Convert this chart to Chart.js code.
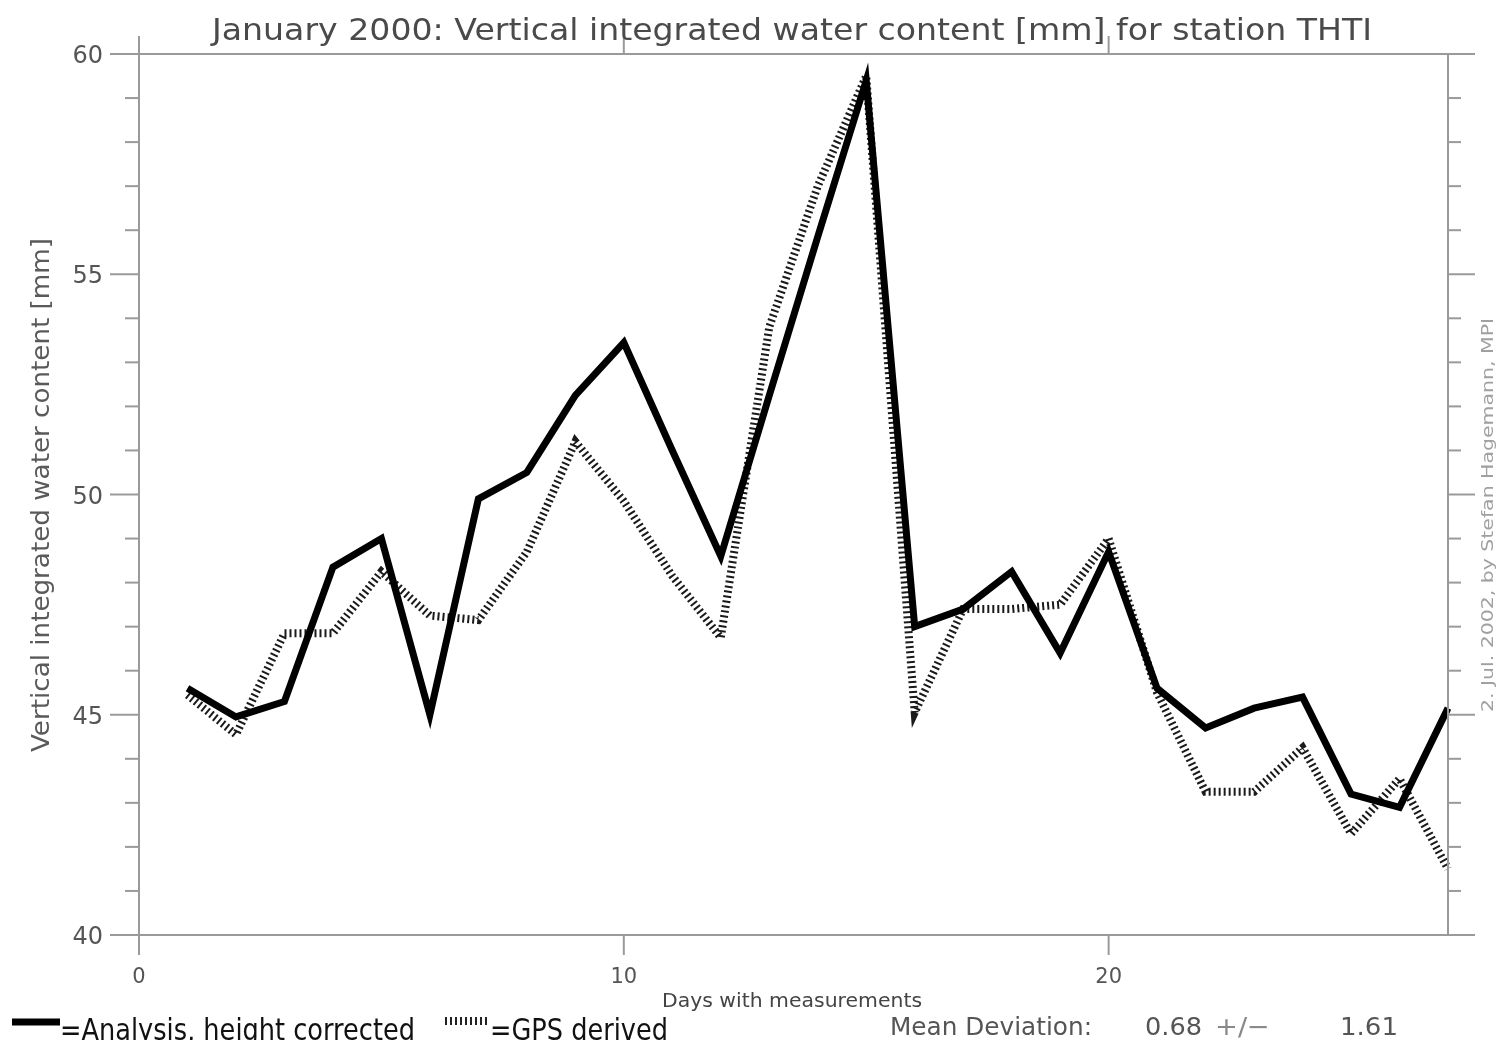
<!DOCTYPE html>
<html>
<head>
<meta charset="utf-8">
<script src="https://cdn.jsdelivr.net/npm/chart.js@4.4.1/dist/chart.umd.min.js"></script>
<style>
  html, body { margin: 0; padding: 0; background: #fff; }
  #wrap { width: 1497px; height: 1040px; }
</style>
</head>
<body>
<div id="wrap"><canvas id="chart" width="1497" height="1040"></canvas></div>
<script>
// values (day of month -> water content in mm)
const days = [1,2,3,4,5,6,7,8,9,10,11,12,13,14,15,16,17,18,19,20,21,22,23,24,25,26,27];
const analysis = [45.6,44.95,45.3,48.35,49.0,45.0,49.9,50.5,52.25,53.45,51.0,48.6,52.25,55.85,59.4,47.0,47.4,48.25,46.4,48.7,45.6,44.7,45.15,45.4,43.2,42.9,45.15];
const gps = [45.45,44.55,46.85,46.85,48.25,47.25,47.15,48.7,51.2,49.85,48.15,46.75,53.8,57.0,59.5,45.05,47.4,47.4,47.5,49.0,45.5,43.25,43.25,44.25,42.3,43.55,41.5];

const xTicks = [0, 10, 20];
const yTicks = [40, 45, 50, 55, 60];
const yMinor = [41,42,43,44,46,47,48,49,51,52,53,54,56,57,58,59];

const titleText = 'January 2000: Vertical integrated water content [mm] for station THTI';
const yTitle = 'Vertical integrated water content [mm]';
const xTitle = 'Days with measurements';
const stamp = '2. Jul. 2002, by Stefan Hagemann, MPI';
const legendA = '=Analysis, height corrected';
const legendB = '=GPS derived';
const meanLabel = 'Mean Deviation:';
const meanVal = '0.68', meanPm = '+/\u2212', meanSd = '1.61';

const FONT = '"DejaVu Sans", sans-serif';

function txt(ctx, s, x, y, o) {
  ctx.save();
  ctx.font = (o.size || 20) + 'px ' + FONT;
  ctx.fillStyle = o.color || '#555';
  ctx.textAlign = o.align || 'left';
  ctx.textBaseline = o.base || 'alphabetic';
  ctx.translate(x, y);
  if (o.rot) ctx.rotate(-Math.PI / 2);
  if (o.width) ctx.scale(o.width / ctx.measureText(s).width, 1);
  ctx.fillText(s, 0, 0);
  ctx.restore();
}

function line(ctx, x1, y1, x2, y2) {
  ctx.beginPath(); ctx.moveTo(x1, y1); ctx.lineTo(x2, y2); ctx.stroke();
}

// ── axes frame, ticks, texts ──
const decor = {
  id: 'decor',
  afterDraw(chart) {
    const { ctx } = chart;
    const x = chart.scales.x, y = chart.scales.y;
    const L = x.getPixelForValue(0), R = x.getPixelForValue(27);
    const T = y.getPixelForValue(60), B = y.getPixelForValue(40);

    ctx.save();
    ctx.strokeStyle = '#9a9a9a';
    ctx.lineWidth = 2;
    // frame
    line(ctx, L, T, R, T);
    line(ctx, L, B, R, B);
    line(ctx, L, T, L, B);
    line(ctx, R, T, R, B);
    // x ticks top and bottom
    xTicks.forEach(v => {
      const px = x.getPixelForValue(v);
      line(ctx, px, T, px, T - 18);
      line(ctx, px, B, px, B + 20);
    });
    // y ticks left and right
    yTicks.forEach(v => {
      const py = y.getPixelForValue(v);
      line(ctx, L, py, L - 29, py);
      line(ctx, R, py, R + 27, py);
    });
    yMinor.forEach(v => {
      const py = y.getPixelForValue(v);
      line(ctx, L, py, L - 14, py);
      line(ctx, R, py, R + 13, py);
    });
    ctx.restore();

    // tick labels
    yTicks.forEach(v => {
      txt(ctx, String(v), 103, y.getPixelForValue(v) + 3, { size: 24, align: 'right', base: 'middle', color: '#555' });
    });
    xTicks.forEach(v => {
      txt(ctx, String(v), x.getPixelForValue(v), 983, { size: 21, align: 'center', color: '#555' });
    });

    // titles
    txt(ctx, titleText, 212, 40, { size: 30, width: 1160, color: '#4a4a4a' });
    txt(ctx, xTitle, 662, 1007, { size: 19, width: 260, color: '#444' });
    txt(ctx, yTitle, 49, 752, { size: 25, width: 514, rot: true, color: '#5a5a5a' });
    txt(ctx, stamp, 1493, 712, { size: 15, width: 394, rot: true, color: '#a0a0a0' });

    // legend samples
    ctx.save();
    ctx.strokeStyle = '#000';
    ctx.lineWidth = 7;
    line(ctx, 12, 1022, 60, 1022);
    ctx.strokeStyle = '#222';
    ctx.lineWidth = 8;
    ctx.setLineDash([2, 3]);
    line(ctx, 445, 1021, 490, 1021);
    ctx.restore();
    txt(ctx, legendA, 60, 1040, { size: 30, width: 355, color: '#111' });
    txt(ctx, legendB, 490, 1040, { size: 30, width: 178, color: '#111' });

    txt(ctx, meanLabel, 890, 1035, { size: 25, width: 202, color: '#555' });
    txt(ctx, meanVal, 1145, 1035, { size: 25, width: 57, color: '#555' });
    txt(ctx, meanPm, 1215, 1035, { size: 25, width: 55, color: '#888' });
    txt(ctx, meanSd, 1340, 1035, { size: 25, width: 58, color: '#555' });
  }
};

new Chart(document.getElementById('chart').getContext('2d'), {
  type: 'line',
  data: {
    datasets: [
      {
        label: 'Analysis, height corrected',
        data: days.map((d, i) => ({ x: d, y: analysis[i] })),
        borderColor: '#000', borderWidth: 7, pointRadius: 0,
        borderJoinStyle: 'miter', tension: 0, clip: false
      },
      {
        label: 'GPS derived',
        data: days.map((d, i) => ({ x: d, y: gps[i] })),
        borderColor: '#1a1a1a', borderWidth: 8, borderDash: [2, 3], pointRadius: 0,
        borderJoinStyle: 'miter', tension: 0, clip: false
      }
    ]
  },
  options: {
    responsive: false,
    animation: false,
    devicePixelRatio: 1,
    layout: { padding: { left: 139, right: 49, top: 54, bottom: 105 } },
    plugins: { legend: { display: false }, title: { display: false }, tooltip: { enabled: false } },
    scales: {
      x: { type: 'linear', min: 0, max: 27, display: false },
      y: { type: 'linear', min: 40, max: 60, display: false }
    }
  },
  plugins: [decor]
});
</script>
</body>
</html>
